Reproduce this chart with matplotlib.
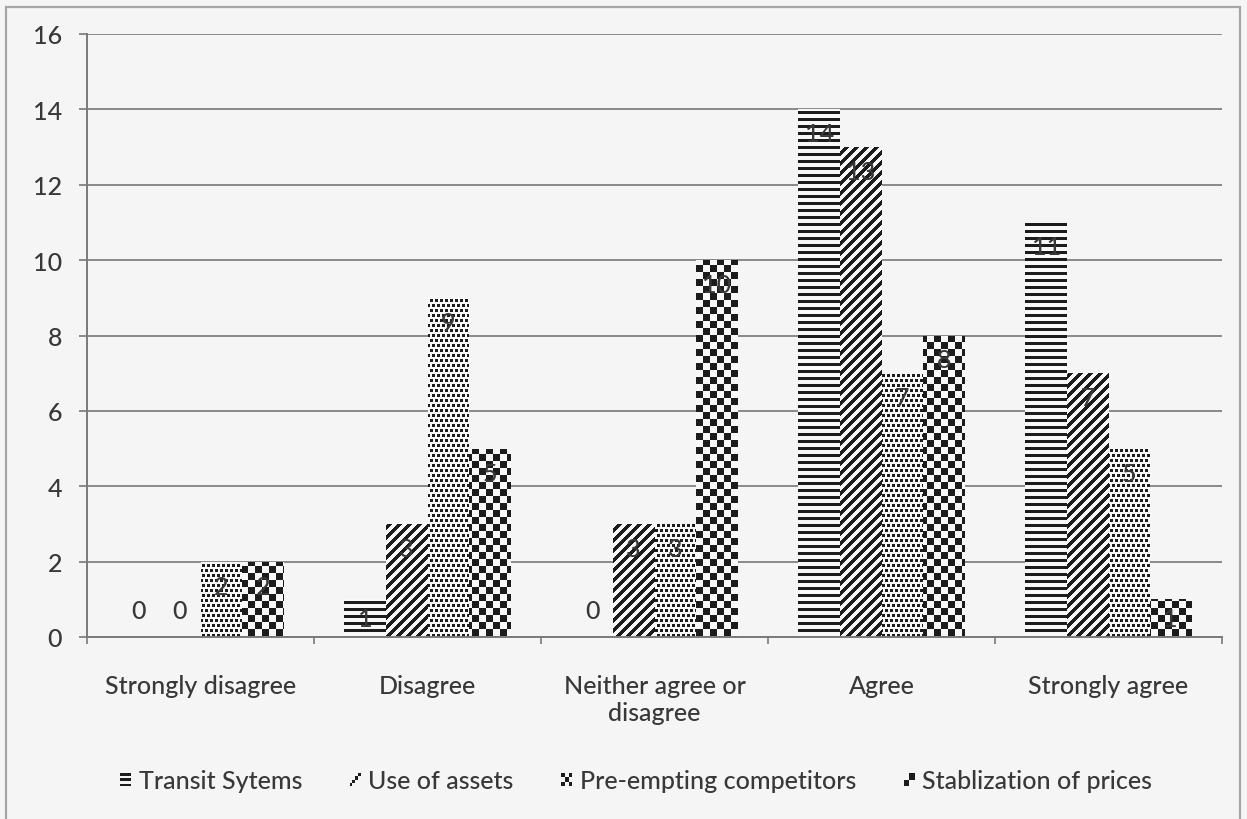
import numpy as np
import matplotlib.pyplot as plt
from matplotlib.colors import ListedColormap
from matplotlib.patches import Rectangle
from matplotlib.path import Path

categories = ["Strongly disagree", "Disagree", "Neither agree or\ndisagree",
              "Agree", "Strongly agree"]
series = ["Transit Sytems", "Use of assets", "Pre-empting competitors",
          "Stablization of prices"]
transit = [0, 1, 0, 14, 11]
assets = [0, 3, 3, 13, 7]
preempt = [2, 9, 3, 7, 5]
stabilize = [2, 5, 10, 8, 1]
yticks = [0, 2, 4, 6, 8, 10, 12, 14, 16]

W, H, DPI = 1247, 820, 100
TXT = "#383838"
plt.rcParams["font.family"] = ["Lato", "DejaVu Sans"]
plt.rcParams["font.weight"] = "medium"
plt.rcParams["font.size"] = 18

fig = plt.figure(figsize=(W / DPI, H / DPI), dpi=DPI, facecolor="#f5f5f5")
ax = fig.add_axes([87 / W, 182 / H, 1135 / W, 603 / H])
ax.set_facecolor("none")
ax.set_xlim(-0.5, 4.5)
ax.set_ylim(0, 16)

# fill patterns on the axes pixel grid
ny, nx = 603, 1135
ii, jj = np.mgrid[0:ny, 0:nx]
row = ii // 5
patterns = [
    (ii % 7) < 3,
    ((ii + jj) % 10) < 5,
    ((ii % 5) < 3) & (((jj + 2 * (row % 2)) % 5) < 3),
    ((ii // 7 + jj // 7) % 2) == 0,
]
cmap = ListedColormap(["#f8f8f8", "#1c1c1c"])

width = 0.183
x = np.arange(len(categories))
for k, vals in enumerate([transit, assets, preempt, stabilize]):
    bars = ax.bar(x + (k - 1.5) * width, vals, width, color="none", lw=0)
    clip = Path.make_compound_path(
        *[b.get_path().transformed(b.get_patch_transform()) for b in bars])
    im = ax.imshow(patterns[k].astype(float), cmap=cmap, vmin=0, vmax=1,
                   extent=(0, 1, 0, 1), transform=ax.transAxes,
                   interpolation="nearest", aspect="auto", zorder=2)
    im.set_clip_path(clip, ax.transData)
    for b, v in zip(bars, vals):
        ty = max(v - 0.65, v / 2) if v > 0 else 0.7
        ax.text(b.get_x() + b.get_width() / 2, ty, str(v), ha="center",
                va="center", color=TXT, zorder=3)

# axes styling
ax.set_axisbelow(True)
ax.yaxis.grid(True, color="#8a8a8a", lw=1.4)
for s in ["top", "right"]:
    ax.spines[s].set_visible(False)
for s in ["left", "bottom"]:
    ax.spines[s].set_color("#7a7a7a")
    ax.spines[s].set_linewidth(1.4)
ax.set_yticks(yticks)
ax.tick_params(axis="y", length=6, width=1.4, color="#8a8a8a", pad=12,
               labelcolor=TXT)
ax.set_xticks(np.arange(-0.5, 5, 1))
ax.set_xticklabels([])
ax.tick_params(axis="x", which="major", length=5, width=1.2, color="#7a7a7a")
ax.set_xticks(x, minor=True)
ax.set_xticklabels(categories, minor=True, color=TXT, linespacing=1.2)
ax.tick_params(axis="x", which="minor", length=0, pad=27)


# small legend glyphs built from cell masks
class GlyphHandler:
    def __init__(self, mask):
        self.mask = np.array(mask)

    def legend_artist(self, legend, orig_handle, fontsize, handlebox):
        r, c = self.mask.shape
        w, h = handlebox.width, handlebox.height
        x0, y0 = -handlebox.xdescent, -handlebox.ydescent
        art = None
        for i in range(r):
            for j in range(c):
                if self.mask[i, j]:
                    p = Rectangle((x0 + j * w / c, y0 + (r - 1 - i) * h / r),
                                  w / c, h / r, facecolor="#1c1c1c", lw=0,
                                  transform=handlebox.get_transform())
                    handlebox.add_artist(p)
                    art = art or p
        return art


glyphs = [
    [[1], [0], [1], [0], [1]],
    [[0, 0, 0, 1], [0, 0, 1, 0], [0, 1, 0, 0], [1, 0, 0, 0]],
    [[1, 0, 1], [0, 1, 0], [1, 0, 1]],
    [[0, 1], [1, 0]],
]
handles = [Rectangle((0, 0), 1, 1) for _ in series]
for hd, name in zip(handles, series):
    hd.set_label(name)
hmap = {hd: GlyphHandler(g) for hd, g in zip(handles, glyphs)}
fig.legend(handles=handles, labels=series, handler_map=hmap, ncol=4,
           loc="center", bbox_to_anchor=(636 / W, 1 - 782 / H),
           frameon=False, handlelength=0.45, handleheight=0.45,
           handletextpad=0.3, columnspacing=1.9, labelcolor=TXT)

# outer chart frame
fig.add_artist(Rectangle((6 / W, -0.05), 1234 / W, 1.05 - 8 / H,
                         transform=fig.transFigure, fill=False,
                         edgecolor="#a5a5a5", lw=1.6, clip_on=False))

fig.savefig("out.png", dpi=DPI, facecolor=fig.get_facecolor())
